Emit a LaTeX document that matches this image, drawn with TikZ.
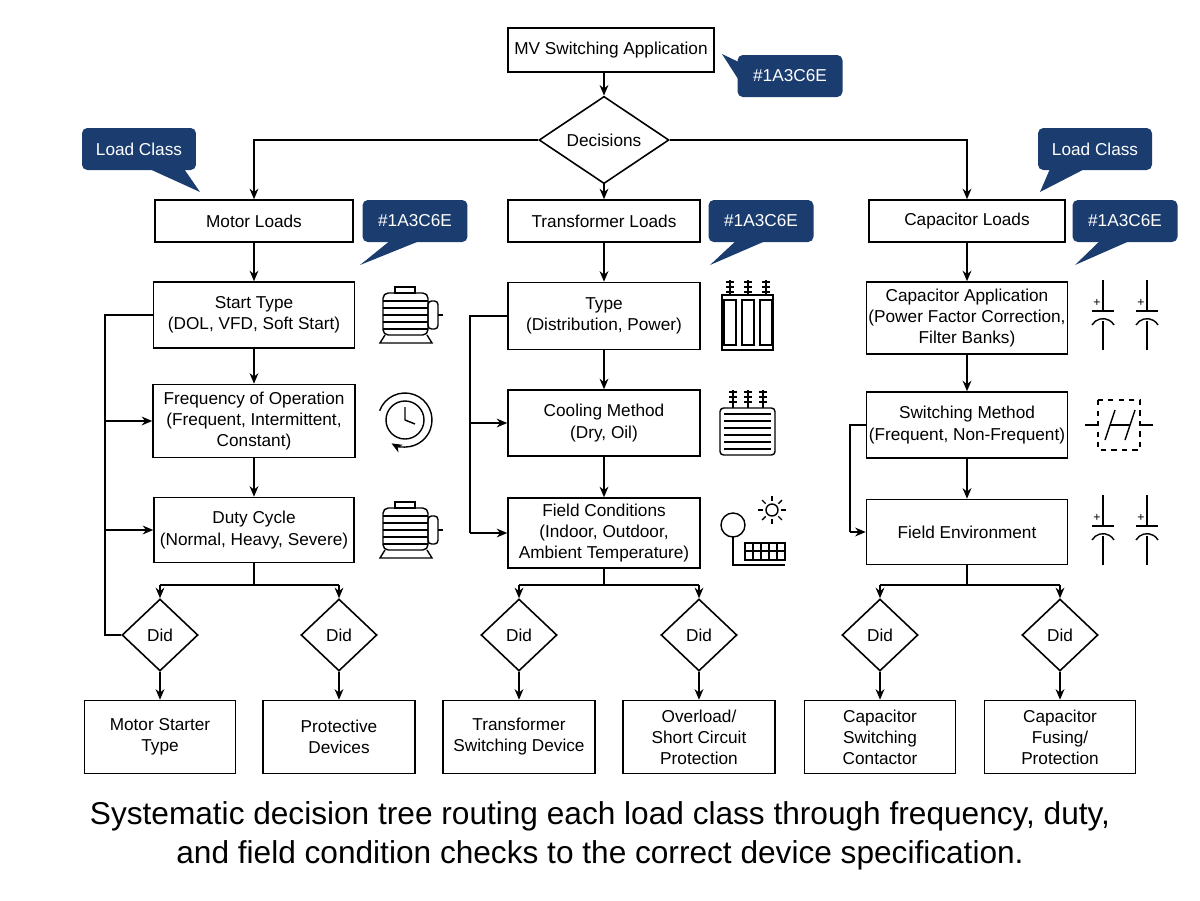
\documentclass[tikz,border=0pt]{standalone}
\usepackage{fontspec}
\setmainfont{Liberation Sans}
\usetikzlibrary{shapes.geometric,arrows.meta,positioning,calc}
\definecolor{navy}{HTML}{1A3C6E}
\newcommand\tagbox[4]{% name, position, text, tail tip
  \node[tag] (#1) at (#2) {#3};
  \fill[navy] ($(#1.south)+(-25,-2)$) -- (#4) -- ($(#1.south)+(5,-2)$) -- cycle;}
\begin{document}
\begin{tikzpicture}[x=0.02cm,y=-0.02cm,>={Stealth[length=6pt,width=5pt]},line width=0.9pt]
	\tikzstyle{every node}=[font=\fontsize{9.8}{12}\selectfont,align=center]
	\tikzstyle{box}=[draw,rectangle,inner sep=1pt]
	\tikzstyle{tag}=[fill=navy,text=white,rounded corners=3pt,minimum width=2.1cm,minimum height=0.84cm]
	\tikzstyle{did}=[draw,diamond,minimum width=1.52cm,minimum height=1.44cm,inner sep=0pt]
	\tikzstyle{icon}=[line width=0.8pt]
	\useasboundingbox (0,0) rectangle (1200,900);

	% top
	\node[box,minimum width=4.12cm,minimum height=0.88cm] (mv) at (611,50) {MV Switching Application};
	\node[tag] (t0) at (790,76) {\#1A3C6E};
	\fill[navy] ($(t0.west)+(2,-14)$) -- (722,54) -- ($(t0.west)+(2,4)$) -- cycle;
	\node[did,minimum width=2.6cm,minimum height=1.24cm] (dec) at (604,140) {Decisions};

	% load classes
	\node[box,minimum width=3.96cm,minimum height=0.84cm] (motor) at (254,221) {Motor Loads};
	\node[box,minimum width=3.84cm,minimum height=0.84cm] (trans) at (604,221) {Transformer Loads};
	\node[box,minimum width=3.92cm,minimum height=0.84cm] (cap) at (967,221) {Capacitor Loads};
	\node[tag,minimum width=2.28cm] (lc1) at (139,149) {Load Class};
	\fill[navy] ($(lc1.south)+(10,-2)$) -- (200,192) -- ($(lc1.south)+(45,-2)$) -- cycle;
	\node[tag,minimum width=2.28cm] (lc2) at (1095,149) {Load Class};
	\fill[navy] ($(lc2.south)+(-45,-2)$) -- (1040,192) -- ($(lc2.south)+(-10,-2)$) -- cycle;
	\tagbox{t1}{415,221}{\#1A3C6E}{360,265}
	\tagbox{t2}{761,221}{\#1A3C6E}{710,265}
	\tagbox{t3}{1125,221}{\#1A3C6E}{1075,265}

	% second level
	\node[box,minimum width=4.02cm,minimum height=1.32cm] (start) at (254,315) {Start Type\\(DOL, VFD, Soft Start)};
	\node[box,minimum width=3.84cm,minimum height=1.34cm] (type) at (604,316) {Type\\(Distribution, Power)};
	\node[box,minimum width=4.02cm,minimum height=1.44cm] (capapp) at (967,318) {Capacitor Application\\(Power Factor Correction,\\Filter Banks)};
	\node[box,minimum width=4.04cm,minimum height=1.46cm] (freq) at (254,421) {Frequency of Operation\\(Frequent, Intermittent,\\Constant)};
	\node[box,minimum width=3.84cm,minimum height=1.32cm] (cool) at (604,423) {Cooling Method\\(Dry, Oil)};
	\node[box,minimum width=4.02cm,minimum height=1.32cm] (swm) at (967,425) {Switching Method\\(Frequent, Non-Frequent)};
	\node[box,minimum width=4.0cm,minimum height=1.3cm] (duty) at (254,530) {Duty Cycle\\(Normal, Heavy, Severe)};
	\node[box,minimum width=3.84cm,minimum height=1.4cm] (field) at (604,533) {Field Conditions\\(Indoor, Outdoor,\\Ambient Temperature)};
	\node[box,minimum width=4.02cm,minimum height=1.3cm] (fenv) at (967,532) {Field Environment};

	% decisions and devices
	\foreach \n/\x in {d1/160,d2/339,d3/519,d4/699,d5/880,d6/1060}
		\node[did] (\n) at (\x,635) {Did};
	\node[box,minimum width=3.02cm,minimum height=1.46cm] (m1) at (160,737) {Motor Starter\\Type};
	\node[box,minimum width=3.04cm,minimum height=1.46cm] (m2) at (339,737) {Protective\\Devices};
	\node[box,minimum width=3.04cm,minimum height=1.46cm] (m3) at (519,737) {Transformer\\Switching Device};
	\node[box,minimum width=3.04cm,minimum height=1.46cm] (m4) at (699,737) {Overload/\\Short Circuit\\Protection};
	\node[box,minimum width=3.02cm,minimum height=1.46cm] (m5) at (880,737) {Capacitor\\Switching\\Contactor};
	\node[box,minimum width=3.02cm,minimum height=1.46cm] (m6) at (1060,737) {Capacitor\\Fusing/\\Protection};

	% connectors
	\draw[->] (mv.south -| dec) -- (dec);
	\draw[->] (dec) -- (trans);
	\draw[->] (dec.west) -| (motor);
	\draw[->] (dec.east) -| (cap);
	\draw[->] (motor) -- (start);
	\draw[->] (trans) -- (type);
	\draw[->] (cap) -- (capapp);
	\draw[->] (start) -- (freq);
	\draw[->] (freq) -- (duty);
	\draw[->] (type) -- (cool);
	\draw[->] (cool) -- (field);
	\draw[->] (capapp) -- (swm);
	\draw[->] (swm) -- (fenv);
	\draw (start.west) -- (105,315) -- (105,635) -- (d1.west);
	\draw[->] (105,421) -- (freq.west);
	\draw[->] (105,530) -- (duty.west);
	\draw (type.west) -- (470,316) -- (470,533);
	\draw[->] (470,423) -- (cool.west);
	\draw[->] (470,533) -- (field.west);
	\draw (swm.west) -- (850,425) -- (850,532);
	\draw[->] (850,532) -- (fenv.west);
	\draw (duty.south) -- (254,585);
	\draw (field.south) -- (604,585);
	\draw (fenv.south) -- (967,585);
	\draw[->] (160,585) -- (339,585) (160,585) -- (d1.north);
	\draw[->] (339,585) -- (d2.north);
	\draw[->] (519,585) -- (699,585) (519,585) -- (d3.north);
	\draw[->] (699,585) -- (d4.north);
	\draw[->] (880,585) -- (1060,585) (880,585) -- (d5.north);
	\draw[->] (1060,585) -- (d6.north);
	\foreach \a/\b in {d1/m1,d2/m2,d3/m3,d4/m4,d5/m5,d6/m6}
		\draw[->] (\a) -- (\b);

	% icons: motors
	\foreach \y in {315,530} {
		\draw[icon,rounded corners=3pt] (383,\y-22) rectangle (428,\y+20);
		\foreach \k in {-14,-7,0,7,14} \draw[icon] (383,\y+\k) -- (428,\y+\k);
		\draw[icon,rounded corners=2pt] (428,\y-14) rectangle (438,\y+14);
		\draw[icon] (438,\y) -- (443,\y);
		\draw[icon] (395,\y-22) rectangle (415,\y-28);
		\draw[icon] (385,\y+20) -- (380,\y+28) -- (432,\y+28) -- (427,\y+20);
	}
	% clock
	\draw[icon] (405,420) circle (19);
	\draw[icon] (405,420) -- (405,407) (405,420) -- (415,424);
	\draw[icon,->] ($(405,420)+(200:27)$) arc (200:480:27);
	% transformers
	\draw[icon] (722,295) rectangle (773,350);
	\foreach \x in {730,748,766} {
		\draw[icon] (\x-6,300) rectangle (\x+6,345);
		\draw[icon] (\x,295) -- (\x,280);
		\foreach \yy in {282,287,292} \draw[icon] (\x-4,\yy) -- (\x+4,\yy);
	}
	\draw[icon,rounded corners=2pt] (720,408) rectangle (775,455);
	\foreach \yy in {414,421,428,435,442,449} \draw[icon] (724,\yy) -- (771,\yy);
	\foreach \x in {733,748,763} {
		\draw[icon] (\x,408) -- (\x,390);
		\foreach \yy in {392,397,402} \draw[icon] (\x-4,\yy) -- (\x+4,\yy);
	}
	% field icon
	\draw[icon] (733,525) circle (12);
	\draw[icon] (733,537) -- (733,565) -- (785,565);
	\draw[icon] (745,543) rectangle (785,560);
	\foreach \x in {753,761,769,777} \draw[icon] (\x,543) -- (\x,560);
	\draw[icon] (745,551) -- (785,551);
	\draw[icon] (772,510) circle (6);
	\foreach \a in {0,45,...,315} \draw[icon] ($(772,510)+(\a:9)$) -- ($(772,510)+(\a:14)$);
	% capacitors
	\foreach \y in {315,530} {
		\draw[icon] (1103,\y-35) -- (1103,\y-4) (1147,\y-35) -- (1147,\y-4);
		\draw[icon] (1103,\y+6) -- (1103,\y+35) (1147,\y+6) -- (1147,\y+35);
		\draw[icon] (1092,\y-4) -- (1114,\y-4);
		\draw[icon] (1092,\y+10) arc (-150:-30:12.7);
		\draw[icon] (1136,\y-4) -- (1158,\y-4);
		\draw[icon] (1136,\y+10) arc (-150:-30:12.7);
		\node[inner sep=0,font=\scriptsize] at (1097,\y-12) {+};
		\node[inner sep=0,font=\scriptsize] at (1141,\y-12) {+};
	}
	% switch icon
	\draw[icon] (1085,425) -- (1098,425) (1140,425) -- (1153,425);
	\draw[icon,dashed] (1098,400) rectangle (1140,450);
	\draw[icon] (1105,440) -- (1115,410) (1125,440) -- (1135,410);
	\draw[icon] (1110,425) -- (1130,425);

	% caption
	\node[font=\fontsize{18}{22}\selectfont] (cap1) at (600,836)
		{Systematic decision tree routing each load class through frequency, duty,\\and field condition checks to the correct device specification.};
\end{tikzpicture}
\end{document}
